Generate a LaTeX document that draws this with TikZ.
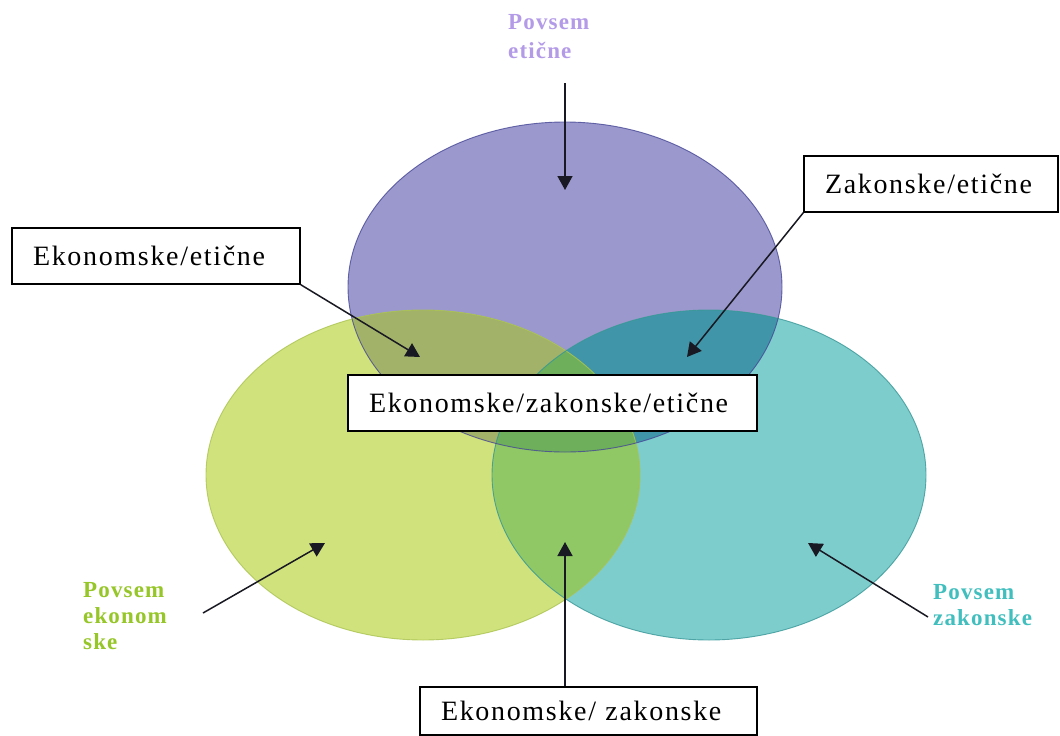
\documentclass[tikz,border=0pt]{standalone}
\usepackage{fontspec}
\setmainfont{Liberation Serif}
\newfontfamily\boxfont[LetterSpace=6]{Liberation Serif}
\newfontfamily\lblfont[LetterSpace=5]{Liberation Serif}
\usetikzlibrary{arrows.meta}
\definecolor{colP}{RGB}{154,152,204}
\definecolor{colG}{RGB}{208,226,124}
\definecolor{colT}{RGB}{126,205,205}
\definecolor{colPG}{RGB}{162,178,104}
\definecolor{colPT}{RGB}{64,150,168}
\definecolor{colGT}{RGB}{143,200,101}
\definecolor{colPGT}{RGB}{109,175,91}
\definecolor{lineP}{RGB}{70,70,150}
\definecolor{lineG}{RGB}{170,195,80}
\definecolor{lineT}{RGB}{55,150,150}
\definecolor{txtP}{RGB}{180,155,232}
\definecolor{txtG}{RGB}{150,198,40}
\definecolor{txtT}{RGB}{65,190,190}
\definecolor{arrcol}{RGB}{25,25,35}
\begin{document}
\begin{tikzpicture}[x=1pt,y=-1pt,
  ell/.style={x radius=217pt,y radius=165pt},
  box/.style={draw=black,line width=1.3pt,fill=white,inner xsep=21pt,inner ysep=0pt,
    align=left,minimum height=56pt,font=\boxfont\fontsize{28}{32}\selectfont},
  lbl/.style={anchor=north west,inner sep=0pt,align=left,
    font=\lblfont\bfseries\fontsize{23}{26}\selectfont},
  arr/.style={draw=arrcol,line width=1.5pt,-{Triangle[length=14pt,width=15pt]}}]
\useasboundingbox (0,0) rectangle (1060,736);
\fill[white] (0,0) rectangle (1060,736);
\coordinate (ctrP) at (565,287);
\coordinate (ctrG) at (423,475);
\coordinate (ctrT) at (709,475);
% solo fills
\fill[colP] (ctrP) ellipse [ell];
\fill[colG] (ctrG) ellipse [ell];
\fill[colT] (ctrT) ellipse [ell];
% pairwise intersections
\begin{scope}\clip (ctrP) ellipse [ell]; \fill[colPG] (ctrG) ellipse [ell];\end{scope}
\begin{scope}\clip (ctrP) ellipse [ell]; \fill[colPT] (ctrT) ellipse [ell];\end{scope}
\begin{scope}\clip (ctrG) ellipse [ell]; \fill[colGT] (ctrT) ellipse [ell];\end{scope}
\begin{scope}\clip (ctrP) ellipse [ell]; \clip (ctrG) ellipse [ell]; \fill[colPGT] (ctrT) ellipse [ell];\end{scope}
% outlines
\draw[lineG,line width=0.9pt,opacity=0.8] (ctrG) ellipse [ell];
\draw[lineT,line width=0.9pt,opacity=0.8] (ctrT) ellipse [ell];
\draw[lineP,line width=0.9pt,opacity=0.8] (ctrP) ellipse [ell];
% labels
\node[lbl,text=txtP,font=\lblfont\bfseries\fontsize{23}{29}\selectfont] (lP) at (508,14) {Povsem\\etične};
\node[lbl,text=txtG] (lG) at (83,582) {Povsem\\ekonom\\ske};
\node[lbl,text=txtT] (lT) at (933,584) {Povsem\\zakonske};
% boxes
\node[box,text width=246pt] (bEE) at (156,256) {Ekonomske/etične};
\node[box,text width=212pt] (bZE) at (931,184) {Zakonske/etične};
\node[box,text width=367pt] (bEZE) at (552.5,403) {Ekonomske/zakonske/etične};
\node[box,text width=295pt,minimum height=48pt] (bEZ) at (588.5,711) {Ekonomske/ zakonske};
% arrow ends
\coordinate (topStart) at (565,83);
\coordinate (tipP) at (565,190);
\coordinate (tipPG) at (420,357);
\coordinate (tipPT) at (687,357);
\coordinate (tipGT) at (565,542);
\coordinate (leftStart) at (203,613);
\coordinate (tipG) at (325,543);
\coordinate (rightStart) at (928,617);
\coordinate (tipT) at (808,543);
% arrows
\draw[arr] (topStart) -- (tipP);
\draw[arr] (bEE.south east) -- (tipPG);
\draw[arr] (bZE.south west) -- (tipPT);
\draw[arr] (bEZ.north -| tipGT) -- (tipGT);
\draw[arr] (leftStart) -- (tipG);
\draw[arr] (rightStart) -- (tipT);
\end{tikzpicture}
\end{document}
